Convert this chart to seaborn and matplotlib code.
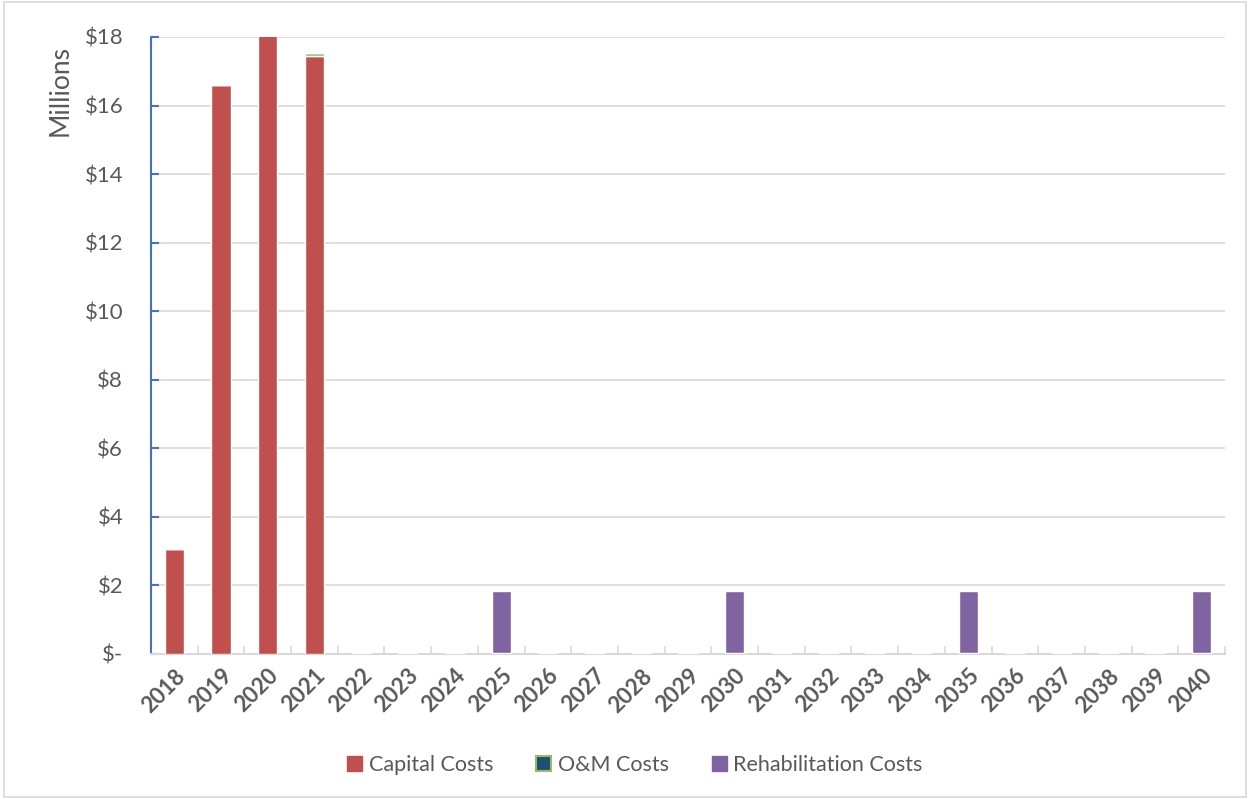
import matplotlib
matplotlib.use("Agg")
import matplotlib.pyplot as plt
import seaborn as sns
import numpy as np
from matplotlib.patches import Patch, Rectangle

years = [str(y) for y in range(2018, 2041)]
capital = [3.05, 16.6, 18.05, 17.45] + [0] * 19
om = [0, 0, 0, 0.08] + [0.03] * 19
rehab = [0, 0, 0, 0, 0, 0, 0, 1.82, 0, 0, 0, 0, 1.82, 0, 0, 0, 0, 1.82, 0, 0, 0, 0, 1.82]
yticks = [0, 2, 4, 6, 8, 10, 12, 14, 16, 18]
ytick_labels = ["$-", "$2", "$4", "$6", "$8", "$10", "$12", "$14", "$16", "$18"]

sns.set_theme(style="white")
plt.rcParams['font.family'] = ['Lato', 'DejaVu Sans']

fig = plt.figure(figsize=(12.5, 7.99), dpi=100)
ax = fig.add_axes([0.1208, 0.1815, 0.8592, 0.7722])

c_cap = "#C0504D"
c_om = "#1F4E79"
c_om_edge = "#9BBB59"
c_reh = "#8064A2"
w = 0.41

om_bottom = np.array(capital)
reh_bottom = np.array(capital) + np.array(om)

sns.barplot(x=years, y=capital, color=c_cap, width=w, ax=ax, saturation=1, zorder=3)
sns.barplot(x=years, y=om, bottom=om_bottom, color=c_om_edge, width=w, ax=ax, saturation=1, zorder=3)
sns.barplot(x=years, y=rehab, bottom=reh_bottom, color=c_reh, width=w, ax=ax, saturation=1, zorder=3)

ax.set_ylim(0, 18)
ax.set_xlim(-0.5, len(years) - 0.5)
ax.set_yticks(yticks)
ax.set_yticklabels(ytick_labels, fontsize=16, color="#595959")
ax.yaxis.grid(True, color="#D9D9D9", linewidth=1.2, zorder=0)
ax.set_axisbelow(True)

ax.set_xticks(range(len(years)))
ax.set_xticklabels(years, rotation=45, ha="right", rotation_mode="anchor",
                   fontsize=16, fontweight="bold", color="#595959")
ax.tick_params(axis="x", length=0, pad=8)
ax.set_xticks(np.arange(-0.5, len(years), 1.0), minor=True)
ax.tick_params(axis="x", which="minor", direction="in", length=6, color="#D9D9D9", width=1.2, bottom=True)
ax.tick_params(axis="y", direction="in", length=6, color="#4472C4", width=1.5, left=True, pad=20)

for s in ["top", "right"]:
    ax.spines[s].set_visible(False)
ax.spines["left"].set_color("#4472C4")
ax.spines["left"].set_linewidth(1.5)
ax.spines["bottom"].set_color("#D9D9D9")
ax.spines["bottom"].set_linewidth(1.5)

ax.set_ylabel("")
fig.text(60 / 1250, 1 - 90 / 799, "Millions", rotation=90, ha="center", va="center",
         fontsize=19, color="#595959")

handles = [Patch(facecolor=c_cap, edgecolor=c_cap),
           Patch(facecolor=c_om, edgecolor=c_om_edge, linewidth=1.5),
           Patch(facecolor=c_reh, edgecolor=c_reh)]
fig.legend(handles, ["Capital Costs", "O&M Costs", "Rehabilitation Costs"],
           loc="center", bbox_to_anchor=(0.508, 0.042), ncol=3, frameon=False,
           fontsize=15.5, handlelength=0.7, handleheight=0.7, columnspacing=2.0,
           handletextpad=0.3, labelcolor="#595959")

fig.patches.append(Rectangle((0.003, 0.003), 0.994, 0.994, transform=fig.transFigure,
                             fill=False, edgecolor="#D9D9D9", linewidth=1.2))

fig.savefig("out.png", dpi=100)
